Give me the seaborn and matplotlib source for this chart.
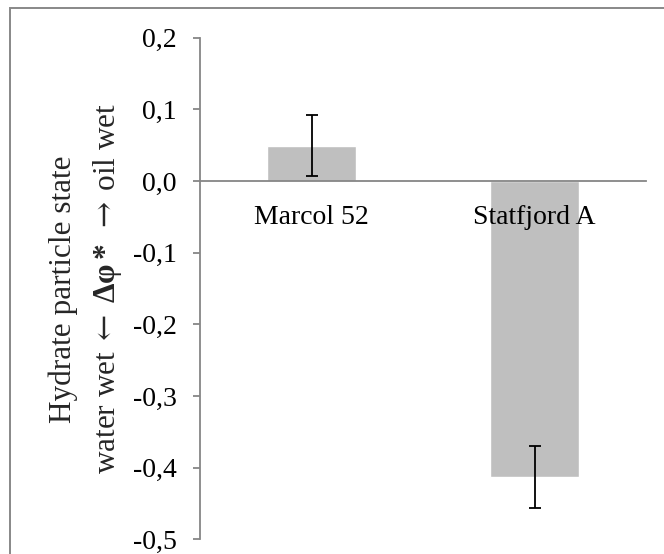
import matplotlib
matplotlib.use("Agg")
import matplotlib.pyplot as plt
import matplotlib.patches as mpatches
import seaborn as sns
import pandas as pd

categories = ["Marcol 52", "Statfjord A"]
values = [0.0495, -0.413]
errors = [0.043, 0.043]
y_ticks = [0.2, 0.1, 0.0, -0.1, -0.2, -0.3, -0.4, -0.5]
y_tick_labels = [f"{v:.1f}".replace(".", ",") for v in y_ticks]
ylabel_line1 = "Hydrate particle state"
ylabel_line2 = ("water wet$\\enspace\\mathsf{\u2190}\\enspace\\mathbf{\u0394\u03c6*}"
                "\\enspace\\mathsf{\u2192}\\enspace$oil wet")

sns.set_theme(style="white")
plt.rcParams["font.family"] = ["Liberation Serif", "DejaVu Serif"]
plt.rcParams["mathtext.fontset"] = "custom"
plt.rcParams["mathtext.rm"] = "Liberation Serif"
plt.rcParams["mathtext.bf"] = "Liberation Serif:bold"
plt.rcParams["mathtext.it"] = "Liberation Serif:italic"
plt.rcParams["mathtext.sf"] = "DejaVu Serif"

df = pd.DataFrame({"cat": categories, "val": values})

fig = plt.figure(figsize=(6.64, 5.54), dpi=100)
ax = fig.add_axes([200 / 664, 1 - 539.3 / 554, 446 / 664, (539.3 - 37.7) / 554])

sns.barplot(data=df, x="cat", y="val", color="#BFBFBF", saturation=1,
            width=0.4, errorbar=None, ax=ax)
for p in ax.patches:
    p.set_zorder(1)
ax.errorbar(x=list(range(len(categories))), y=values, yerr=errors, fmt="none",
            ecolor="black", elinewidth=1.3, capsize=4.5, capthick=1.3, zorder=4)

ax.set_xlim(-0.5, len(categories) - 0.5)
ax.set_ylim(-0.5, 0.2)
ax.set_yticks(y_ticks)
ax.set_yticklabels(y_tick_labels, fontsize=20)
ax.set_xticks([])
ax.set_xlabel("")
ax.set_ylabel("")

spine_color = "#868686"
for s in ["top", "right"]:
    ax.spines[s].set_visible(False)
ax.spines["left"].set_color(spine_color)
ax.spines["left"].set_linewidth(1.3)
ax.spines["bottom"].set_position(("data", 0))
ax.spines["bottom"].set_color(spine_color)
ax.spines["bottom"].set_linewidth(1.3)
ax.spines["bottom"].set_zorder(3)

ax.tick_params(axis="y", which="both", left=True, direction="out", length=5,
               width=1.3, color=spine_color, pad=12, labelcolor="black")

for i, c in enumerate(categories):
    ax.annotate(c, xy=(i, 0), xytext=(0, -17), textcoords="offset points",
                ha="center", va="top", fontsize=20, color="black", zorder=6)

fig.text(63 / 664, 1 - 289 / 554, ylabel_line1, rotation=90, fontsize=22.5,
         ha="center", va="center")
fig.text(108 / 664, 1 - 288 / 554, ylabel_line2, rotation=90, fontsize=22.5,
         ha="center", va="center")

border = mpatches.Rectangle((9.5 / 664, -0.1), 1.2, 1.1 - 8.5 / 554,
                            transform=fig.transFigure, fill=False,
                            edgecolor="#888888", linewidth=1.4)
fig.patches.append(border)

fig.savefig("out.png", dpi=100, facecolor="white")
